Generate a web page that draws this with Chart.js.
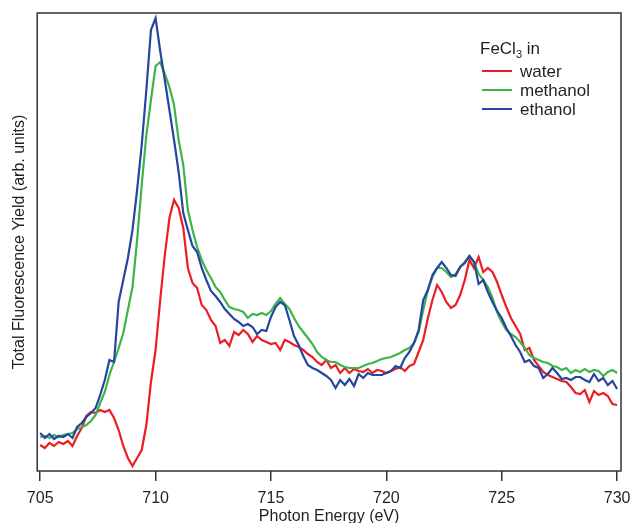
<!DOCTYPE html>
<html>
<head>
<meta charset="utf-8">
<title>Fe L-edge TFY</title>
<script src="https://cdn.jsdelivr.net/npm/chart.js@4.4.1/dist/chart.umd.min.js"></script>
<style>
  html, body { margin: 0; padding: 0; background: #fff; }
</style>
</head>
<body>
<canvas id="tfyChart" width="631" height="523"></canvas>
<script>
// Fe L-edge total fluorescence yield, 0.2 eV steps from 705 eV
const startEnergy = 705;
const energyStep = 0.2;
const xTicks = [705, 710, 715, 720, 725, 730];

const water = [
  26, 23, 28, 25, 29, 27, 30, 25, 35, 43,
  55, 59, 58, 61, 59, 61, 53, 41, 25, 13,
  5, 13, 21, 46, 89, 121, 171, 216, 253, 271,
  263, 243, 203, 188, 183, 166, 161, 151, 145, 128,
  131, 125, 139, 136, 141, 137, 129, 135, 131, 129,
  127, 128, 121, 131, 129, 126, 124, 121, 117, 114,
  109, 106, 111, 103, 106, 98, 103, 98, 102, 100,
  99, 102, 98, 101, 100, 98, 100, 102, 104, 100,
  105, 107, 119, 131, 153, 171, 186, 179, 169, 163,
  166, 176, 191, 211, 203, 214, 199, 203, 199, 189,
  176, 164, 153, 145, 137, 121, 123, 111, 105, 99,
  96, 94, 92, 90, 89, 84, 78, 77, 81, 69,
  80, 76, 78, 75, 67, 66
];

const methanol = [
  34, 35, 33, 36, 34, 36, 37, 38, 42, 44,
  46, 50, 56, 68, 79, 96, 109, 123, 138, 161,
  184, 231, 286, 336, 371, 405, 409, 397, 384, 366,
  331, 306, 261, 241, 224, 211, 201, 193, 184, 179,
  171, 164, 162, 161, 159, 153, 157, 156, 158, 156,
  160, 167, 173, 167, 162, 153, 145, 139, 133, 127,
  119, 114, 111, 109, 109, 106, 104, 103, 103, 103,
  105, 107, 108, 110, 112, 113, 114, 116, 118, 121,
  123, 128, 139, 161, 181, 194, 203, 203, 199, 194,
  197, 204, 209, 215, 209, 197, 191, 184, 173, 159,
  149, 141, 137, 134, 129, 123, 116, 113, 111, 109,
  108, 105, 104, 101, 103, 98, 101, 99, 102, 99,
  101, 100, 95, 99, 101, 98
];

const ethanol = [
  38, 33, 37, 32, 35, 34, 37, 33, 44, 48,
  54, 58, 63, 76, 91, 111, 109, 169, 191, 213,
  241, 281, 326, 381, 441, 453, 420, 391, 361, 331,
  299, 258, 241, 225, 219, 203, 191, 180, 175, 169,
  162, 157, 152, 149, 145, 147, 144, 137, 141, 140,
  154, 164, 169, 166, 151, 135, 126, 115, 106, 103,
  101, 98, 95, 91, 83, 91, 86, 92, 85, 97,
  93, 98, 96, 96, 96, 98, 100, 105, 103, 113,
  119, 128, 141, 171, 181, 196, 203, 209, 203, 196,
  195, 204, 208, 215, 209, 187, 191, 179, 169, 160,
  153, 143, 135, 126, 119, 109, 111, 105, 103, 93,
  97, 103, 98, 92, 93, 91, 94, 94, 91, 89,
  97, 90, 93, 86, 90, 82
];

const textColor = "#231f20";
const fontFamily = "'Liberation Sans', Arial, Helvetica, sans-serif";

function toPoints(values) {
  return values.map((v, i) => ({ x: startEnergy + i * energyStep, y: v }));
}

// box round the plot area
const frameBox = {
  id: "frameBox",
  afterDatasetsDraw(chart) {
    const { ctx, chartArea } = chart;
    ctx.save();
    ctx.strokeStyle = "#333333";
    ctx.lineWidth = 1.5;
    ctx.strokeRect(chartArea.left, chartArea.top,
      chartArea.right - chartArea.left, chartArea.bottom - chartArea.top);
    ctx.restore();
  },
};

// legend with the FeCl3 title (subscript needs its own font size)
const legendBox = {
  id: "legendBox",
  afterDatasetsDraw(chart) {
    const { ctx, chartArea } = chart;
    const x0 = chartArea.right - 141;
    const y0 = chartArea.top;
    ctx.save();
    ctx.fillStyle = textColor;
    ctx.textBaseline = "alphabetic";
    ctx.textAlign = "left";
    ctx.font = "17px " + fontFamily;
    ctx.fillText("FeCl", x0, y0 + 41);
    const w1 = ctx.measureText("FeCl").width;
    ctx.font = "11px " + fontFamily;
    ctx.fillText("3", x0 + w1, y0 + 45);
    const w2 = ctx.measureText("3").width;
    ctx.font = "17px " + fontFamily;
    ctx.fillText(" in", x0 + w1 + w2, y0 + 41);

    chart.data.datasets.forEach((ds, i) => {
      const ly = y0 + 58 + i * 19;
      ctx.strokeStyle = ds.borderColor;
      ctx.lineWidth = 2;
      ctx.beginPath();
      ctx.moveTo(x0 + 2, ly);
      ctx.lineTo(x0 + 32, ly);
      ctx.stroke();
      ctx.fillStyle = textColor;
      ctx.fillText(ds.label, x0 + 40, ly + 6);
    });
    ctx.restore();
  },
};

const ctx = document.getElementById("tfyChart");
new Chart(ctx, {
  type: "line",
  data: {
    datasets: [
      { label: "water", data: toPoints(water), borderColor: "#ec1c24", order: 2 },
      { label: "methanol", data: toPoints(methanol), borderColor: "#3db449", order: 1 },
      { label: "ethanol", data: toPoints(ethanol), borderColor: "#2546a0", order: 0 },
    ],
  },
  options: {
    responsive: false,
    animation: false,
    events: [],
    layout: { padding: { left: 6, right: 10, top: 13, bottom: 0 } },
    elements: {
      point: { radius: 0 },
      line: { borderWidth: 2.2, tension: 0, fill: false },
    },
    plugins: {
      legend: { display: false },
      tooltip: { enabled: false },
    },
    scales: {
      x: {
        type: "linear",
        min: 704.87,
        max: 730.17,
        afterBuildTicks: (scale) => {
          scale.ticks = xTicks.map((v) => ({ value: v }));
        },
        afterFit: (scale) => {
          // the end labels fit inside the layout padding already
          scale.paddingLeft = 0;
          scale.paddingRight = 9;
        },
        grid: {
          display: true,
          drawOnChartArea: false,
          drawTicks: true,
          tickLength: 10,
          color: "#333333",
          lineWidth: 1.5,
        },
        border: { display: false },
        ticks: {
          padding: 9.5,
          color: textColor,
          font: { family: fontFamily, size: 16, lineHeight: 1 },
          maxRotation: 0,
        },
        title: {
          display: true,
          text: "Photon Energy (eV)",
          color: textColor,
          font: { family: fontFamily, size: 16, lineHeight: 1 },
          padding: { top: -7, bottom: -2 },
        },
      },
      y: {
        min: 0,
        max: 458,
        grid: { display: false, drawTicks: false },
        border: { display: false },
        ticks: { display: false },
        title: {
          display: true,
          text: "Total Fluorescence Yield (arb. units)",
          color: textColor,
          font: { family: fontFamily, size: 16, lineHeight: 1.2 },
          padding: { top: 4, bottom: 8 },
        },
      },
    },
  },
  plugins: [frameBox, legendBox],
});
</script>
</body>
</html>
